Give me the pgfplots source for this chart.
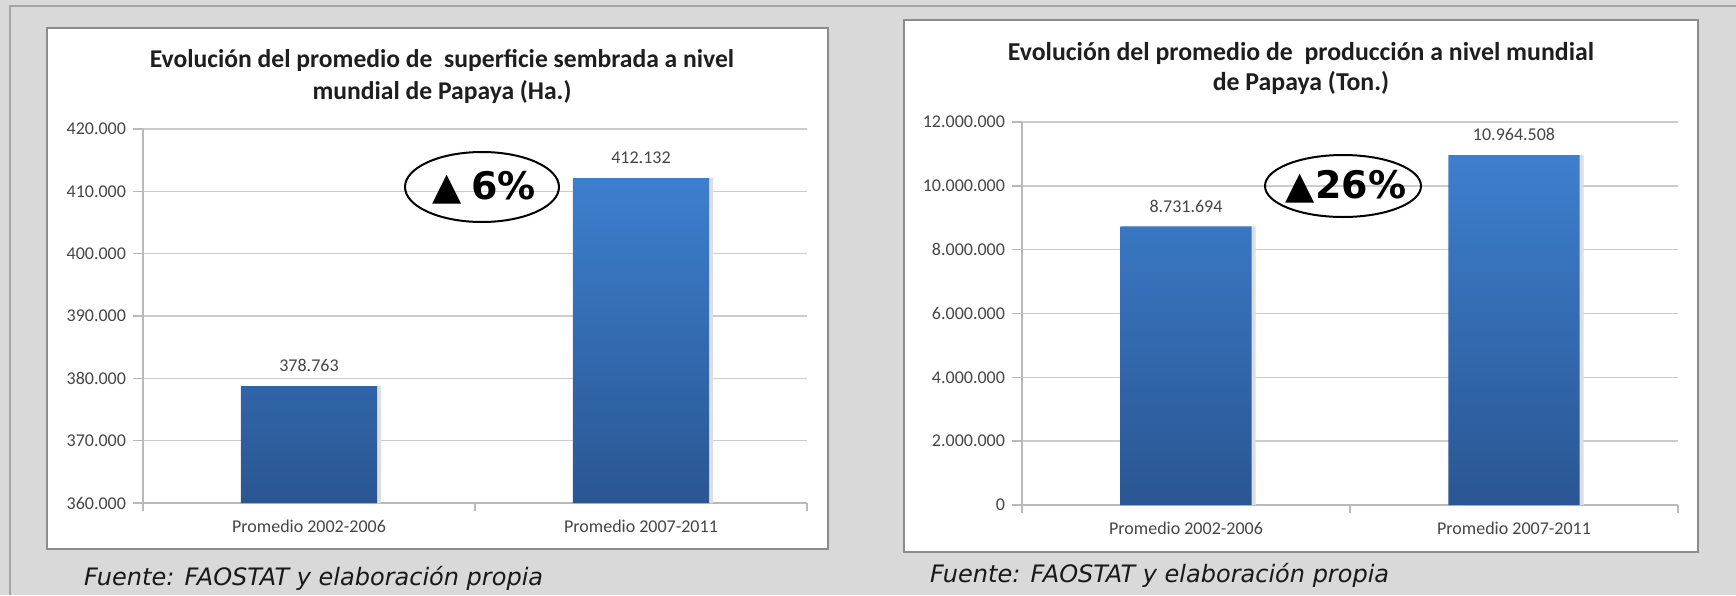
\documentclass[border=0pt]{standalone}
\usepackage{fontspec}
\setmainfont{Carlito}
\newfontfamily\dejavu{DejaVu Sans}
\usepackage{pgfplots}
\pgfplotsset{compat=1.18}

\definecolor{bgGray}{RGB}{217,217,217}
\definecolor{frameGray}{RGB}{165,165,165}
\definecolor{panelLine}{RGB}{140,140,140}
\definecolor{barTop}{RGB}{61,127,206}
\definecolor{barBot}{RGB}{42,86,146}
\definecolor{tickText}{RGB}{70,70,70}
\definecolor{titleText}{RGB}{30,30,30}

\pgfplotsset{
  papaya/.style={
    scale only axis,
    anchor=south west,
    ybar, bar shift=0pt,
    xmin=-0.5, xmax=1.5,
    xtick={0,1},
    xticklabels={Promedio 2002-2006, Promedio 2007-2011},
    major x tick style={draw=none},
    minor xtick={-0.5,0.5,1.5},
    minor tick length=4pt,
    tick align=outside,
    major tick length=5pt,
    axis x line*=bottom,
    axis y line*=left,
    axis line style={draw=gray!55, line width=0.8pt},
    ymajorgrids,
    grid style={draw=gray!40, line width=0.8pt},
    tick style={draw=gray!55, line width=0.8pt},
    scaled y ticks=false,
    ticklabel style={font=\fontsize{9}{10}\selectfont, text=tickText},
    /pgf/number format/fixed,
    /pgf/number format/precision=0,
    /pgf/number format/1000 sep={.},
    /pgf/number format/assume math mode=true,
    nodes near coords style={font=\fontsize{9}{10}\selectfont, text=tickText, yshift=3.5pt},
  },
  shadowbar/.style={draw=none, fill=black!13, bar shift=2pt},
  shadedbar/.style={draw=none, top color=barTop, bottom color=barBot},
  labelbar/.style={draw=none, fill=none, nodes near coords},
}

\begin{document}
\begin{tikzpicture}[x=0.5pt, y=-0.5pt]
\useasboundingbox (0,0) rectangle (1736,595);
\fill[bgGray] (0,0) rectangle (1736,595);
\draw[frameGray, line width=1pt] (10,595) -- (10,6) -- (1736,6);

\draw[panelLine, line width=1pt, fill=white] (47,28) rectangle (828,549);
\draw[panelLine, line width=1pt, fill=white] (904,20) rectangle (1698,552);

\coordinate (origA) at (143,503);
\coordinate (origB) at (1022,505);

% superficie sembrada
\begin{axis}[papaya,
  at={(origA)},
  width=332pt, height=187pt,
  ymin=360000, ymax=420000,
  ytick={360000,370000,380000,390000,400000,410000,420000},
  bar width=0.41,
]
\addplot[shadowbar] coordinates {(0,378763) (1,412132)};
\addplot[shadedbar] coordinates {(0,378763) (1,412132)};
\addplot[labelbar] coordinates {(0,378763) (1,412132)};
\end{axis}

% produccion
\begin{axis}[papaya,
  at={(origB)},
  width=328pt, height=191.5pt,
  ymin=0, ymax=12000000,
  ytick={0,2000000,4000000,6000000,8000000,10000000,12000000},
  bar width=0.40,
]
\addplot[shadowbar] coordinates {(0,8731694) (1,10964508)};
\addplot[shadedbar] coordinates {(0,8731694) (1,10964508)};
\addplot[labelbar] coordinates {(0,8731694) (1,10964508)};
\end{axis}

\node[align=center, text=titleText, font=\fontsize{12.8}{16}\selectfont\bfseries]
  at (442,77) {Evolución del promedio de\ \ superficie sembrada a nivel\\mundial de Papaya (Ha.)};
\node[align=center, text=titleText, font=\fontsize{12.9}{15}\selectfont\bfseries]
  at (1301,68) {Evolución del promedio de\ \ producción a nivel mundial\\de Papaya (Ton.)};

\draw[line width=1pt] (482,187) ellipse [x radius=38.5pt, y radius=17.5pt];
\draw[line width=1pt] (1343,186) ellipse [x radius=39pt, y radius=15.5pt];
\node[font=\dejavu\bfseries\fontsize{19}{19}\selectfont] at (484,188) {▲\hspace{5pt}6\%};
\node[font=\dejavu\bfseries\fontsize{19}{19}\selectfont] at (1346,187) {▲26\%};

\node[anchor=base west, font=\dejavu\itshape\fontsize{12}{12}\selectfont, text=black!90]
  at (77,585) {Fuente: FAOSTAT y elaboración propia};
\node[anchor=base west, font=\dejavu\itshape\fontsize{12}{12}\selectfont, text=black!90]
  at (923,582) {Fuente: FAOSTAT y elaboración propia};
\end{tikzpicture}
\end{document}
